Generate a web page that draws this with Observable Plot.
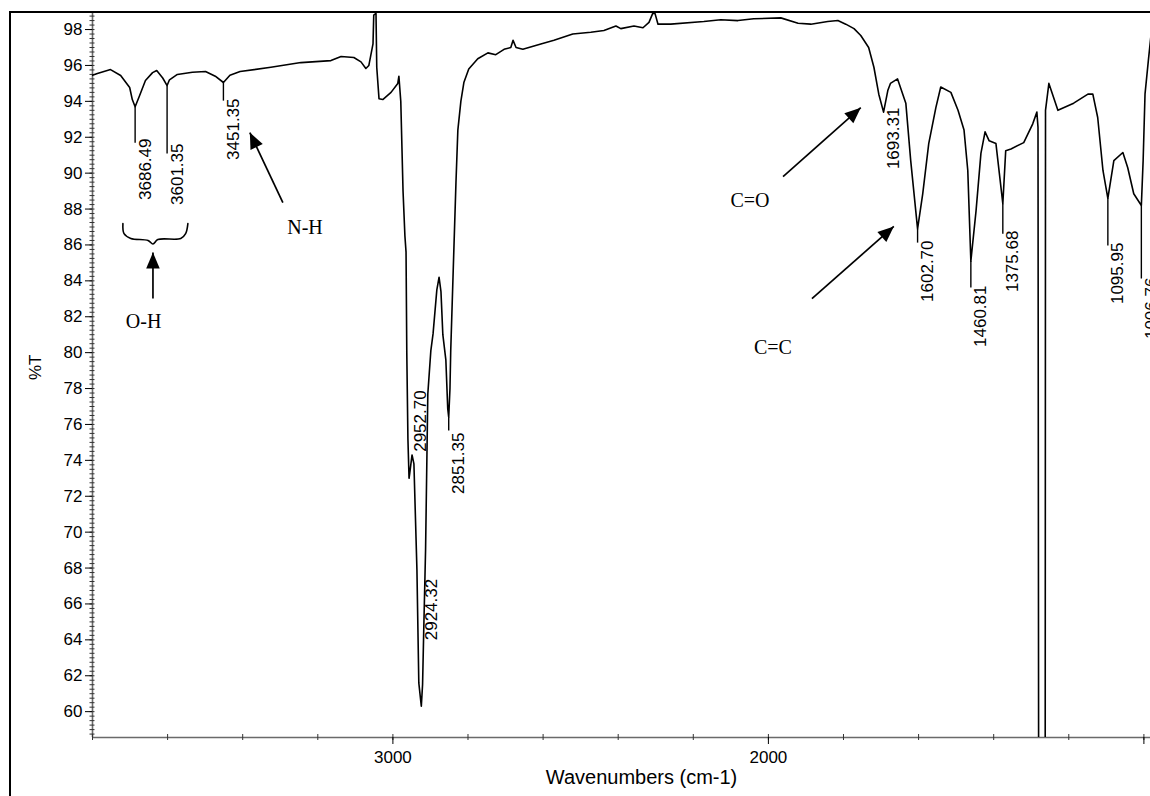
<!DOCTYPE html>
<html>
<head>
<meta charset="utf-8">
<script src="https://cdn.jsdelivr.net/npm/d3@7"></script>
<script src="https://cdn.jsdelivr.net/npm/@observablehq/plot@0.6"></script>
<style>
  body { margin: 0; background: #fff; }
  #wrap { position: relative; width: 1150px; height: 796px; overflow: hidden; background: #fff; }
  #frame { position: absolute; left: 9px; top: 11px; width: 1300px; height: 900px;
           border-left: 2px solid #000; border-top: 2px solid #000; pointer-events: none; }
  #wrap svg { position: absolute; left: 0; top: 0; }
</style>
</head>
<body>
<div id="wrap"><div id="frame"></div></div>
<script>
// ---- spectrum ----
const wavenumber = [3800, 3787, 3752, 3725, 3701, 3694, 3686.49, 3675, 3659, 3640, 3629, 3613, 3601.35, 3595, 3574, 3534, 3499, 3473, 3451.35, 3434, 3407, 3325, 3245, 3165, 3138, 3104, 3085, 3072, 3064, 3053, 3051, 3045, 3043, 3037, 3027, 3005, 2987, 2984, 2979, 2973, 2968, 2965, 2963, 2960, 2957, 2955, 2949, 2944, 2936, 2931, 2924.32, 2921, 2918, 2913, 2907, 2899, 2893, 2883, 2877, 2872, 2867, 2859, 2854, 2851.35, 2848, 2846, 2838, 2832, 2827, 2819, 2811, 2798, 2774, 2747, 2726, 2704, 2686, 2680, 2672, 2654, 2606, 2571, 2521, 2473, 2438, 2406, 2393, 2358, 2334, 2318, 2308, 2302, 2294, 2260, 2172, 2127, 2081, 2039, 1967, 1921, 1887, 1842, 1815, 1794, 1772, 1754, 1733, 1719, 1706, 1693.31, 1682, 1675, 1656, 1634, 1621, 1602.70, 1589, 1573, 1554, 1541, 1514, 1495, 1479, 1469, 1460.81, 1447, 1434, 1423, 1412, 1394, 1385, 1375.68, 1368, 1354, 1320, 1296, 1285, 1282, 1280, 1263, 1262, 1253, 1229, 1187, 1149, 1136, 1123, 1109, 1095.95, 1080, 1056, 1043, 1027, 1006.76, 1002, 997, 988, 980];
const transmittance = [95.45, 95.55, 95.77, 95.44, 94.77, 94.1, 93.7, 94.3, 95.16, 95.6, 95.72, 95.3, 94.88, 95.2, 95.5, 95.62, 95.66, 95.4, 95.05, 95.45, 95.66, 95.9, 96.16, 96.27, 96.5, 96.44, 96.2, 95.83, 96.0, 97.2, 98.8, 98.9, 95.9, 94.15, 94.1, 94.5, 95.0, 95.4, 94.0, 89, 86.5, 85.6, 80, 75.2, 73.0, 73.3, 74.3, 73.8, 67.9, 61.6, 60.3, 61.5, 64.4, 69, 77.7, 80.1, 81.06, 83.5, 84.2, 83.4, 81.0, 79.6, 76.9, 76.4, 78, 80.1, 85.5, 89.5, 92.4, 94.0, 95.05, 95.8, 96.37, 96.7, 96.6, 96.9, 97.0, 97.4, 97.0, 96.9, 97.2, 97.4, 97.75, 97.85, 97.95, 98.2, 98.05, 98.2, 98.1, 98.4, 98.9, 98.9, 98.3, 98.3, 98.45, 98.55, 98.5, 98.6, 98.65, 98.35, 98.3, 98.45, 98.5, 98.3, 98.05, 97.67, 97.0, 95.9, 94.4, 93.4, 94.6, 95.0, 95.25, 93.9, 90.7, 86.9, 88.85, 91.65, 93.65, 94.8, 94.5, 93.5, 92.4, 90.15, 85.1, 87.9, 91.1, 92.3, 91.8, 91.65, 90.0, 88.3, 91.25, 91.35, 91.7, 92.75, 93.4, 92.55, 50, 50, 93.5, 95.0, 93.5, 93.9, 94.4, 94.4, 93.1, 90.15, 88.6, 90.7, 91.15, 90.3, 88.85, 88.2, 90.7, 94.4, 96.3, 97.9];

// ---- peak labels ----
const peakWavenumber = [3686.49, 3601.35, 3451.35, 2952.70, 2924.32, 2851.35, 1693.31, 1602.70, 1460.81, 1375.68, 1095.95, 1006.76];
const peakDepth      = [93.7, 94.88, 95.05, 73.0, 60.3, 76.4, 93.4, 86.9, 85.1, 88.3, 88.6, 88.2];
// annotation layout in %T units: top of the rotated label, end of the leader line
const labelTop  = [91.93, 91.65, 94.16, 77.9, 67.4, 75.55, 93.65, 86.25, 83.74, 86.8, 86.13, 84.18];
const leaderEnd = [91.7, 91.09, 94.04, null, null, 75.66, null, 86.13, 83.63, 86.63, 85.97, 84.13];

// ---- band annotations ----
const bandNames = ["O-H", "N-H", "C=O", "C=C"];
const bandTextWn = [3664, 3234, 2049, 1988];
const bandTextT  = [81.73, 86.97, 88.47, 80.28];
const arrowFromWn = [3639, 3293, 1961, 1884];
const arrowFromT  = [83.01, 88.36, 89.81, 83.01];
const arrowToWn   = [3639, 3381, 1754, 1666];
const arrowToT    = [85.58, 92.26, 93.65, 87.03];
// brace under the two O-H peaks
const braceWn = [3719, 3716, 3698, 3652, 3639, 3626, 3565, 3552, 3546];
const braceT  = [87.19, 86.63, 86.36, 86.25, 86.05, 86.3, 86.36, 86.63, 87.19];

// ---- axes ----
const xDomain = [3800, 982.4];
const yDomain = [58.56, 98.95];
const yMajorTicks = d3.range(60, 99, 2);
const yMinorTicks = d3.range(58.75, 99, 0.25);
const xMinorTicks = d3.range(3800, 999, -200);
const xMajorTicks = [3000, 2000, 1000];

const W = 1150, H = 796, mL = 92, mR = 0, mT = 12, mB = 59;

if (wavenumber.length !== transmittance.length) console.error("length mismatch");

const spectrum = wavenumber.map((w, i) => ({w, t: transmittance[i]}));
const peaks = peakWavenumber.map((w, i) => ({w, depth: peakDepth[i], top: labelTop[i], end: leaderEnd[i]}));
const leaders = peaks.filter(d => d.end != null);
const bands = bandNames.map((name, i) => ({name, x: bandTextWn[i], y: bandTextT[i]}));
const arrows = bandNames.map((name, i) => ({x1: arrowFromWn[i], y1: arrowFromT[i], x2: arrowToWn[i], y2: arrowToT[i]}));
const brace = braceWn.map((w, i) => ({w, t: braceT[i]}));

const sx = Plot.scale({x: {domain: xDomain, range: [mL, W - mR]}});
const sy = Plot.scale({y: {domain: yDomain, range: [H - mB, mT]}});
const angleOf = d => {
  const dx = sx.apply(d.x2) - sx.apply(d.x1);
  const dy = sy.apply(d.y2) - sy.apply(d.y1);
  return Math.atan2(dx, -dy) * 180 / Math.PI;
};
// filled arrowhead with its tip at the origin, pointing up
const arrowHead = {
  draw(context, size) {
    const h = Math.sqrt(size) * 1.5, w = h * 0.85;
    context.moveTo(0, 0);
    context.lineTo(-w / 2, h);
    context.lineTo(w / 2, h);
    context.closePath();
  }
};

const sans = "'Liberation Sans', Arial, Helvetica, sans-serif";
const serif = "'Liberation Serif', 'Times New Roman', Times, serif";

const chart = Plot.plot({
  width: W, height: H,
  marginLeft: mL, marginRight: mR, marginTop: mT, marginBottom: mB,
  style: {fontFamily: sans, fontSize: "17px", color: "#000", background: "transparent"},
  x: {domain: xDomain, label: null},
  y: {domain: yDomain, label: null},
  marks: [
    Plot.ruleX([xDomain[0]], {stroke: "#6a6a6a", strokeWidth: 1.6}),
    Plot.ruleY([yDomain[0]], {stroke: "#6a6a6a", strokeWidth: 1.6}),
    Plot.axisY({ticks: yMinorTicks, tickSize: 5, dx: 2.5, tickFormat: () => "", label: null, stroke: "#333"}),
    Plot.axisY({ticks: yMajorTicks, tickSize: 7, tickPadding: 3, tickFormat: d => String(d), fontSize: 17, label: null, stroke: "#000"}),
    Plot.axisX({ticks: xMinorTicks, tickSize: 6, dy: -3, tickFormat: () => "", label: null, stroke: "#333"}),
    Plot.axisX({ticks: xMajorTicks, tickSize: 7, tickPadding: 6, tickFormat: d => d === 1000 ? "" : String(d), fontSize: 17, label: null, stroke: "#000"}),
    Plot.text(["%T"], {frameAnchor: "left", dx: -57, dy: 5, rotate: -90, fontSize: 17}),
    Plot.text(["Wavenumbers (cm-1)"], {frameAnchor: "bottom", dx: 20, dy: 46, fontSize: 20}),
    Plot.line(spectrum, {x: "w", y: "t", stroke: "#000", strokeWidth: 1.6, clip: true}),
    Plot.link(leaders, {x1: "w", x2: "w", y1: "depth", y2: "end", stroke: "#000", strokeWidth: 1.4}),
    Plot.text(peaks, {x: "w", y: "top", text: d => d.w.toFixed(2), rotate: -90, textAnchor: "end", lineAnchor: "middle", dx: 10, fontSize: 17}),
    Plot.line(brace, {x: "w", y: "t", stroke: "#000", strokeWidth: 1.6, curve: "catmull-rom"}),
    Plot.link(arrows, {x1: "x1", y1: "y1", x2: "x2", y2: "y2", stroke: "#000", strokeWidth: 1.7}),
    Plot.dot(arrows, {x: "x2", y: "y2", r: 6, symbol: arrowHead, rotate: angleOf, fill: "#000", stroke: "none"}),
    Plot.text(bands, {x: "x", y: "y", text: "name", fontFamily: serif, fontSize: 20})
  ]
});
document.getElementById("wrap").insertBefore(chart, document.getElementById("frame"));
</script>
</body>
</html>
